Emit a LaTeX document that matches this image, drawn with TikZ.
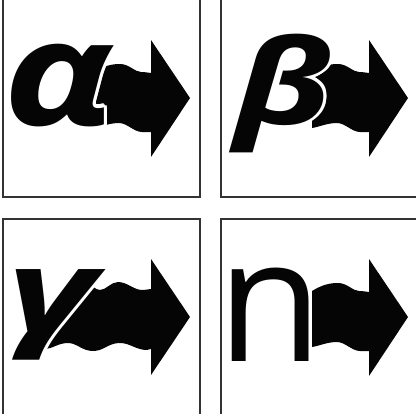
\documentclass[tikz,border=0pt]{standalone}
\usepackage{fontspec}
\usepackage{tikz}
\usetikzlibrary{calc}
\newfontfamily\glyphfont{Open Sans}
\definecolor{frame}{HTML}{333333}
\definecolor{ink}{HTML}{050505}

\begin{document}
\begin{tikzpicture}[x=0.025cm,y=-0.025cm,
  panel/.style={draw=frame,line width=0.8pt},
  ray/.style={fill=ink},
  letter/.style={inner sep=0pt,anchor=base west,text=ink},
  greek/.style={font=\glyphfont\bfseries\itshape\fontsize{#1}{#1}\selectfont}]
  \useasboundingbox (0,0) rectangle (416,414);
  % four panels
  \draw[panel] (3,-3) rectangle (200,197);
  \draw[panel] (221,-3) rectangle (419,197);
  \draw[panel] (3,219) rectangle (200,417);
  \draw[panel] (221,219) rectangle (419,417);
  % wavy arrows (alpha, beta, neutron)
  \foreach \hx/\cy in {151/98,369/98,369/317}
    \fill[ray,shift={(\hx,\cy)}] (-57,-26) .. controls (-47,-32) and (-40,-34) .. (-31,-34)
      .. controls (-22,-34) and (-16,-26) .. (-10,-26) .. controls (-5,-26) and (-2,-25) .. (0,-25)
      -- (0,-58) -- (39,0) -- (0,59) -- (0,34)
      .. controls (-3,34) and (-6,34) .. (-9,34) .. controls (-17,34) and (-24,25) .. (-32,25)
      .. controls (-42,25) and (-50,29) .. (-57,30) -- cycle;
  % long wavy arrow (gamma)
  \fill[ray] (45,349) .. controls (47,325) and (62,296) .. (86,284)
    .. controls (92,284) and (95,290) .. (100,290) .. controls (106,290) and (111,282) .. (118,282)
    .. controls (127,282) and (134,290) .. (142,290) .. controls (146,290) and (149,289) .. (151,289)
    -- (151,259) -- (190,317) -- (151,375) -- (151,349)
    .. controls (149,349) and (148,350) .. (147,350) .. controls (136,350) and (130,343) .. (120,343)
    .. controls (108,343) and (104,351) .. (93,351) .. controls (82,351) and (77,343) .. (68,343)
    .. controls (58,343) and (52,349) .. (45,349) -- cycle;
  % white halo round the letters
  \foreach \a in {0,20,...,340} {
    \node[letter,greek=104,text=white,shift={(\a:2.2pt)},xscale=1.25] (ahalo\a) at (3,125) {α};
    \node[letter,greek=84,text=white,shift={(\a:2.2pt)},xscale=1.35] (bhalo\a) at (234,124) {β};
    \node[letter,greek=82,text=white,shift={(\a:2.2pt)},xscale=1.5] (ghalo\a) at (7,332) {γ};
  }
  \node[letter,greek=104,xscale=1.25] (alpha) at (3,125) {α};
  \node[letter,greek=84,xscale=1.35] (beta) at (234,124) {β};
  \node[letter,greek=82,xscale=1.5] (gamma) at (7,332) {γ};
  \node[letter,font=\glyphfont\fontsize{122}{130}\selectfont] (neutron) at (217,361) {n};
\end{tikzpicture}
\end{document}
